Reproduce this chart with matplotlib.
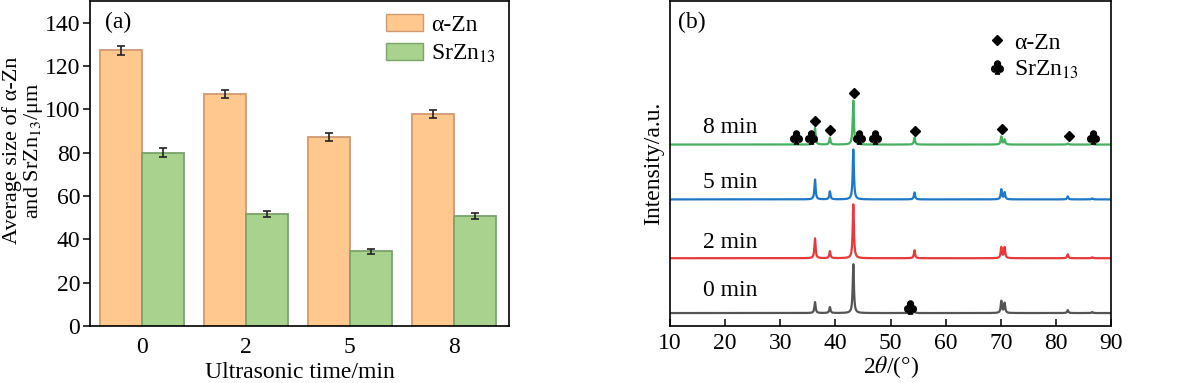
import matplotlib
matplotlib.use('Agg')
import matplotlib.pyplot as plt
import numpy as np
from matplotlib.patches import Patch
from matplotlib.lines import Line2D

plt.rcParams.update({
    'font.family': ['Liberation Serif', 'DejaVu Serif'],
    'mathtext.fontset': 'stix',
    'font.size': 17,
    'axes.linewidth': 1.2,
})

# ---- panel (a) data ----
times = ['0', '2', '5', '8']
zn_size = [127.3, 107.0, 87.2, 97.8]
zn_err = [2.0, 2.0, 1.8, 1.8]
sr_size = [80.0, 51.7, 34.4, 50.8]
sr_err = [2.0, 1.3, 1.2, 1.2]

# ---- panel (b) data ----
two_theta_min, two_theta_max = 10, 90
peak_pos = [36.3, 39.0, 43.25, 54.35, 70.1, 70.7, 82.15, 86.6]
heights = {
    '0 min': [11, 6, 49, 2, 12, 10, 3, 1],
    '2 min': [20, 7, 54, 8, 11, 11, 4, 1],
    '5 min': [20, 8, 50, 7, 10, 7, 3, 1],
    '8 min': [17, 7, 44, 7, 8, 5, 1, 1],
}
offsets = {'0 min': 13, '2 min': 68, '5 min': 127, '8 min': 182}
colors_b = {'0 min': '#555555', '2 min': '#E8393A', '5 min': '#1E78C8', '8 min': '#45B060'}
label_y = {'0 min': 36, '2 min': 84, '5 min': 144, '8 min': 199}

zn_mark_x = [36.3, 39.0, 43.3, 54.5, 70.2, 82.3]
zn_mark_y = [206, 197, 234, 196, 198, 191]
sr_mark_x = [32.8, 35.5, 44.2, 47.1, 86.7, 53.5]
sr_mark_y = [190, 190, 190, 190, 190, 19]

ORANGE = '#FFC88F'
ORANGE_E = '#CF9A6E'
GREEN = '#A9D28F'
GREEN_E = '#7BA36A'

fig = plt.figure(figsize=(11.95, 3.83), dpi=100)
ax1 = fig.add_axes([0.0753, 0.1488, 0.3506, 0.8486])
ax2 = fig.add_axes([0.5607, 0.1488, 0.3690, 0.8486])

# ---------------- (a) ----------------
x = np.arange(len(times))
w = 0.404
ax1.bar(x - w / 2, zn_size, w, color=ORANGE, edgecolor=ORANGE_E, linewidth=1.3,
        yerr=zn_err, capsize=3, error_kw=dict(ecolor='#222222', elinewidth=1.2, capthick=1.2))
ax1.bar(x + w / 2, sr_size, w, color=GREEN, edgecolor=GREEN_E, linewidth=1.3,
        yerr=sr_err, capsize=3, error_kw=dict(ecolor='#222222', elinewidth=1.2, capthick=1.2))
ax1.set_xlim(-0.5, 3.53)
ax1.set_ylim(0, 150)
ax1.set_yticks(range(0, 141, 20))
ax1.set_xticks(x)
ax1.set_xticklabels(times)
ax1.tick_params(axis='y', direction='out', length=5, width=1.1, pad=2, labelsize=17)
ax1.tick_params(axis='x', length=0, pad=8, labelsize=17)
ax1.set_xlabel('Ultrasonic time/min', fontsize=17, labelpad=3)
ax1.set_ylabel('Average size of α-Zn\nand SrZn$_{13}$/μm', fontsize=16, linespacing=0.98)
ax1.yaxis.set_label_coords(-0.108, 0.54)
ax1.text(0.035, 0.965, '(a)', transform=ax1.transAxes, fontsize=17, va='top')
handles = [Patch(facecolor=ORANGE, edgecolor=ORANGE_E, label='α-Zn'),
           Patch(facecolor=GREEN, edgecolor=GREEN_E, label='SrZn$_{13}$')]
ax1.legend(handles=handles, loc='upper right', frameon=False, fontsize=17,
           handlelength=1.55, handleheight=0.75, handletextpad=0.35,
           borderaxespad=0.15, labelspacing=0.3)

# ---------------- (b) ----------------
tt = np.linspace(two_theta_min, two_theta_max, 4000)
gamma = 0.13
for name in ['0 min', '2 min', '5 min', '8 min']:
    y = np.full_like(tt, offsets[name], dtype=float)
    for p, h in zip(peak_pos, heights[name]):
        y += h / (1 + ((tt - p) / gamma) ** 2)
    ax2.plot(tt, y, color=colors_b[name], lw=1.6)
    ax2.text(21, label_y[name], name, fontsize=17, ha='center', va='center')

ax2.plot(zn_mark_x, zn_mark_y, linestyle='none', marker='D', markersize=5.5, color='black')
ax2.plot(sr_mark_x, sr_mark_y, linestyle='none', marker='$♣$', markersize=9.5, color='black')

ax2.set_xlim(two_theta_min, two_theta_max)
ax2.set_ylim(0, 326)
ax2.set_yticks([])
ax2.set_xticks(range(10, 91, 10))
ax2.tick_params(axis='x', direction='in', length=5, width=1.1, labelsize=17, pad=5)
ax2.set_xlabel(r'2$\theta$/(°)', fontsize=17, labelpad=0)
ax2.set_ylabel('Intensity/a.u.', fontsize=17, labelpad=4)
ax2.text(0.017, 0.965, '(b)', transform=ax2.transAxes, fontsize=17, va='top')
leg_h = [Line2D([], [], linestyle='none', marker='D', markersize=5.5, color='black', label='α-Zn'),
         Line2D([], [], linestyle='none', marker='$♣$', markersize=9.5, color='black',
                label='SrZn$_{13}$')]
ax2.legend(handles=leg_h, loc='upper right', bbox_to_anchor=(0.975, 0.97), frameon=False,
           fontsize=17, handlelength=0.8, handletextpad=0.3, labelspacing=0.2)

fig.savefig('out.png', dpi=100)
